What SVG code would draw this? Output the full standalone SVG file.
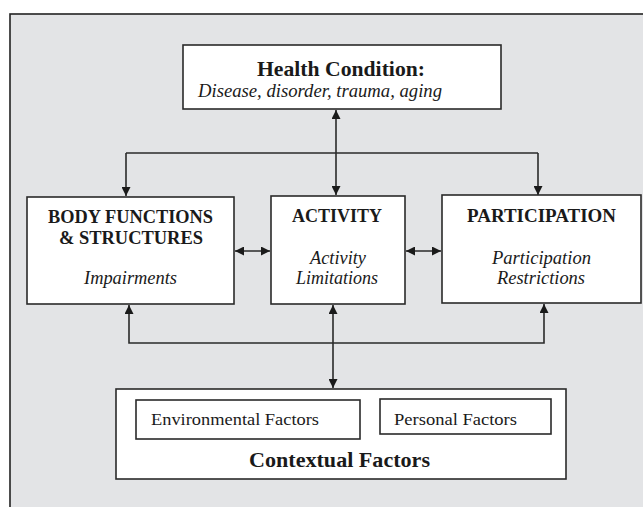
<svg xmlns="http://www.w3.org/2000/svg" width="643" height="507" viewBox="0 0 643 507">
<style>
.box{fill:#fff;stroke:#2a2a2a;stroke-width:1.6}
.ln{fill:none;stroke:#2a2a2a;stroke-width:1.6}
.b{font-family:"Liberation Serif","Times New Roman",serif;font-weight:bold;fill:#1a1a1a;text-anchor:middle}
.i{font-family:"Liberation Serif","Times New Roman",serif;font-style:italic;fill:#1a1a1a;text-anchor:middle}
.r{font-family:"Liberation Serif","Times New Roman",serif;fill:#1a1a1a}
</style>
<defs>
<marker id="ah" viewBox="0 0 10 10" refX="10" refY="5" markerWidth="10" markerHeight="9" markerUnits="userSpaceOnUse" orient="auto-start-reverse">
<path d="M0,0 L10,5 L0,10 z" fill="#1a1a1a"/>
</marker>
</defs>
<rect x="0" y="0" width="643" height="507" fill="#fff"/>
<rect x="10" y="14" width="660" height="520" fill="#e3e4e6" stroke="#222" stroke-width="1.6"/>
<g id="connectors">
<path class="ln" d="M126,153 H538"/>
<path class="ln" d="M126,153 V196" marker-end="url(#ah)"/>
<path class="ln" d="M538,153 V195" marker-end="url(#ah)"/>
<path class="ln" d="M336,110 V195" marker-start="url(#ah)" marker-end="url(#ah)"/>
<path class="ln" d="M235,251 H270" marker-start="url(#ah)" marker-end="url(#ah)"/>
<path class="ln" d="M406,251 H441" marker-start="url(#ah)" marker-end="url(#ah)"/>
<path class="ln" d="M129,305 V343 H544 V304" marker-start="url(#ah)" marker-end="url(#ah)"/>
<path class="ln" d="M333,305 V388" marker-start="url(#ah)" marker-end="url(#ah)"/>
</g>
<g id="health">
<rect class="box" x="183" y="45" width="318" height="64"/>
<text class="b" x="341" y="76" font-size="21" textLength="168" lengthAdjust="spacingAndGlyphs">Health Condition:</text>
<text class="i" x="320" y="97" font-size="19" textLength="244" lengthAdjust="spacingAndGlyphs">Disease, disorder, trauma, aging</text>
</g>
<g id="body">
<rect class="box" x="27" y="197" width="207" height="107"/>
<text class="b" x="130.5" y="223" font-size="19" textLength="165" lengthAdjust="spacingAndGlyphs">BODY FUNCTIONS</text>
<text class="b" x="131" y="244" font-size="19" textLength="144" lengthAdjust="spacingAndGlyphs">&amp; STRUCTURES</text>
<text class="i" x="130.5" y="284" font-size="18" textLength="93" lengthAdjust="spacingAndGlyphs">Impairments</text>
</g>
<g id="activity">
<rect class="box" x="271" y="196" width="134" height="108"/>
<text class="b" x="337" y="222" font-size="19" textLength="90" lengthAdjust="spacingAndGlyphs">ACTIVITY</text>
<text class="i" x="338" y="264" font-size="18" textLength="56" lengthAdjust="spacingAndGlyphs">Activity</text>
<text class="i" x="337" y="284" font-size="18" textLength="82" lengthAdjust="spacingAndGlyphs">Limitations</text>
</g>
<g id="participation">
<rect class="box" x="442" y="195" width="199" height="108"/>
<text class="b" x="541.5" y="222" font-size="19" textLength="149" lengthAdjust="spacingAndGlyphs">PARTICIPATION</text>
<text class="i" x="541.5" y="264" font-size="18" textLength="99" lengthAdjust="spacingAndGlyphs">Participation</text>
<text class="i" x="541" y="284" font-size="18" textLength="88" lengthAdjust="spacingAndGlyphs">Restrictions</text>
</g>
<g id="contextual">
<rect class="box" x="116" y="389" width="450" height="90"/>
<text class="b" x="339.5" y="467" font-size="21" textLength="181" lengthAdjust="spacingAndGlyphs">Contextual Factors</text>
</g>
<g id="environmental">
<rect class="box" x="136" y="400" width="224" height="39"/>
<text class="r" x="151" y="425" font-size="17" textLength="168" lengthAdjust="spacingAndGlyphs">Environmental Factors</text>
</g>
<g id="personal">
<rect class="box" x="380" y="399" width="171" height="35"/>
<text class="r" x="394" y="425" font-size="17" textLength="123" lengthAdjust="spacingAndGlyphs">Personal Factors</text>
</g>
</svg>
